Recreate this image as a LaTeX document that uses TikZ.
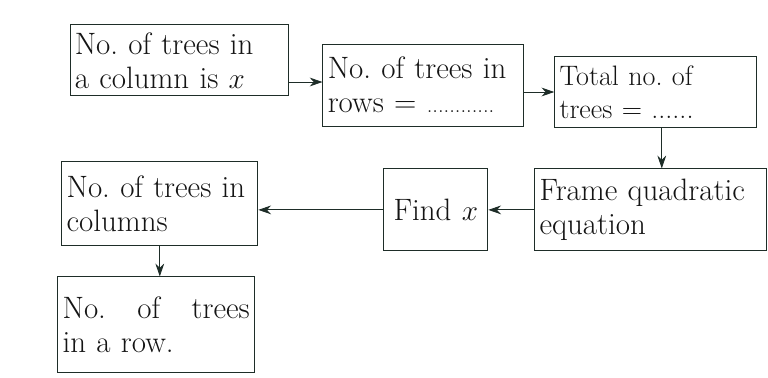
\documentclass[tikz,border=0pt]{standalone}
\usepackage{tikz}
\usepackage{xcolor}
\usetikzlibrary{arrows.meta, positioning, calc}
\definecolor{BoxEdge}{RGB}{30, 45, 40}
\definecolor{TextInk}{RGB}{20, 20, 20}
\frenchspacing

\begin{document}
\begin{tikzpicture}[
    font=\fontsize{22}{24}\selectfont,
    % Styles
    box/.style={rectangle, line width=0.7pt, align=left, inner xsep=0.12cm, inner ysep=0.1cm, draw=BoxEdge, fill=white, text=TextInk},
    arrow/.style={line width=0.6pt, -{Stealth[length=3.2mm, width=2.2mm]}, color=BoxEdge}
]

\useasboundingbox (0,0) rectangle (19.2,-9.425);

% ==========================================================================================
% TOP ROW
% ==========================================================================================

% Trees in a column
\node[box, text width=5.21cm, minimum height=1.775cm] (colx) at (4.475,-1.51) {No. of trees in\\a column is $x$};

% Trees in rows
\node[box, text width=4.78cm, minimum height=2.05cm, right=0.85cm of colx, yshift=-0.615cm] (rows) {No. of trees in\\\mbox{rows = {\fontsize{16}{24}\selectfont ............}}};

% Total trees
\node[box, text width=4.81cm, minimum height=1.775cm, right=0.75cm of rows, yshift=-0.185cm, font=\fontsize{20}{23}\selectfont] (total) {Total no. of\\trees = ......};

% Arrows
\draw[arrow] ([yshift=-0.54cm]colx.east) -- ([yshift=-0.54cm]colx.east -| rows.west);
\draw[arrow] ([yshift=-0.175cm]rows.east) -- ([yshift=-0.175cm]rows.east -| total.west);

% ==========================================================================================
% LOWER ROWS
% ==========================================================================================

% Frame the equation
\node[box, text width=5.56cm, minimum height=2.05cm, below=1cm of total, xshift=-0.125cm] (frame) {Frame quadratic\\equation};

% Find x
\node[box, text width=2.36cm, minimum height=2.05cm, left=1.15cm of frame, align=center] (find) {Find $x$};

% Trees in columns
\node[box, text width=4.66cm, minimum height=2.1cm, left=3.125cm of find, yshift=0.15cm] (cols) {No. of trees in\\columns};

% Trees in a row
\node[box, text width=4.68cm, minimum height=2.4cm, below=0.75cm of cols, xshift=-0.09cm] (row) {No.\hfill of\hfill trees\\in a row.};

% Arrows
\draw[arrow] ([xshift=0.15cm]total.south) -- ([xshift=0.15cm]total.south |- frame.north);
\draw[arrow] (frame.west) -- (frame.west -| find.east);
\draw[arrow] (find.west) -- (find.west -| cols.east);
\draw[arrow] (cols.south) -- (cols.south |- row.north);

\end{tikzpicture}
\end{document}
